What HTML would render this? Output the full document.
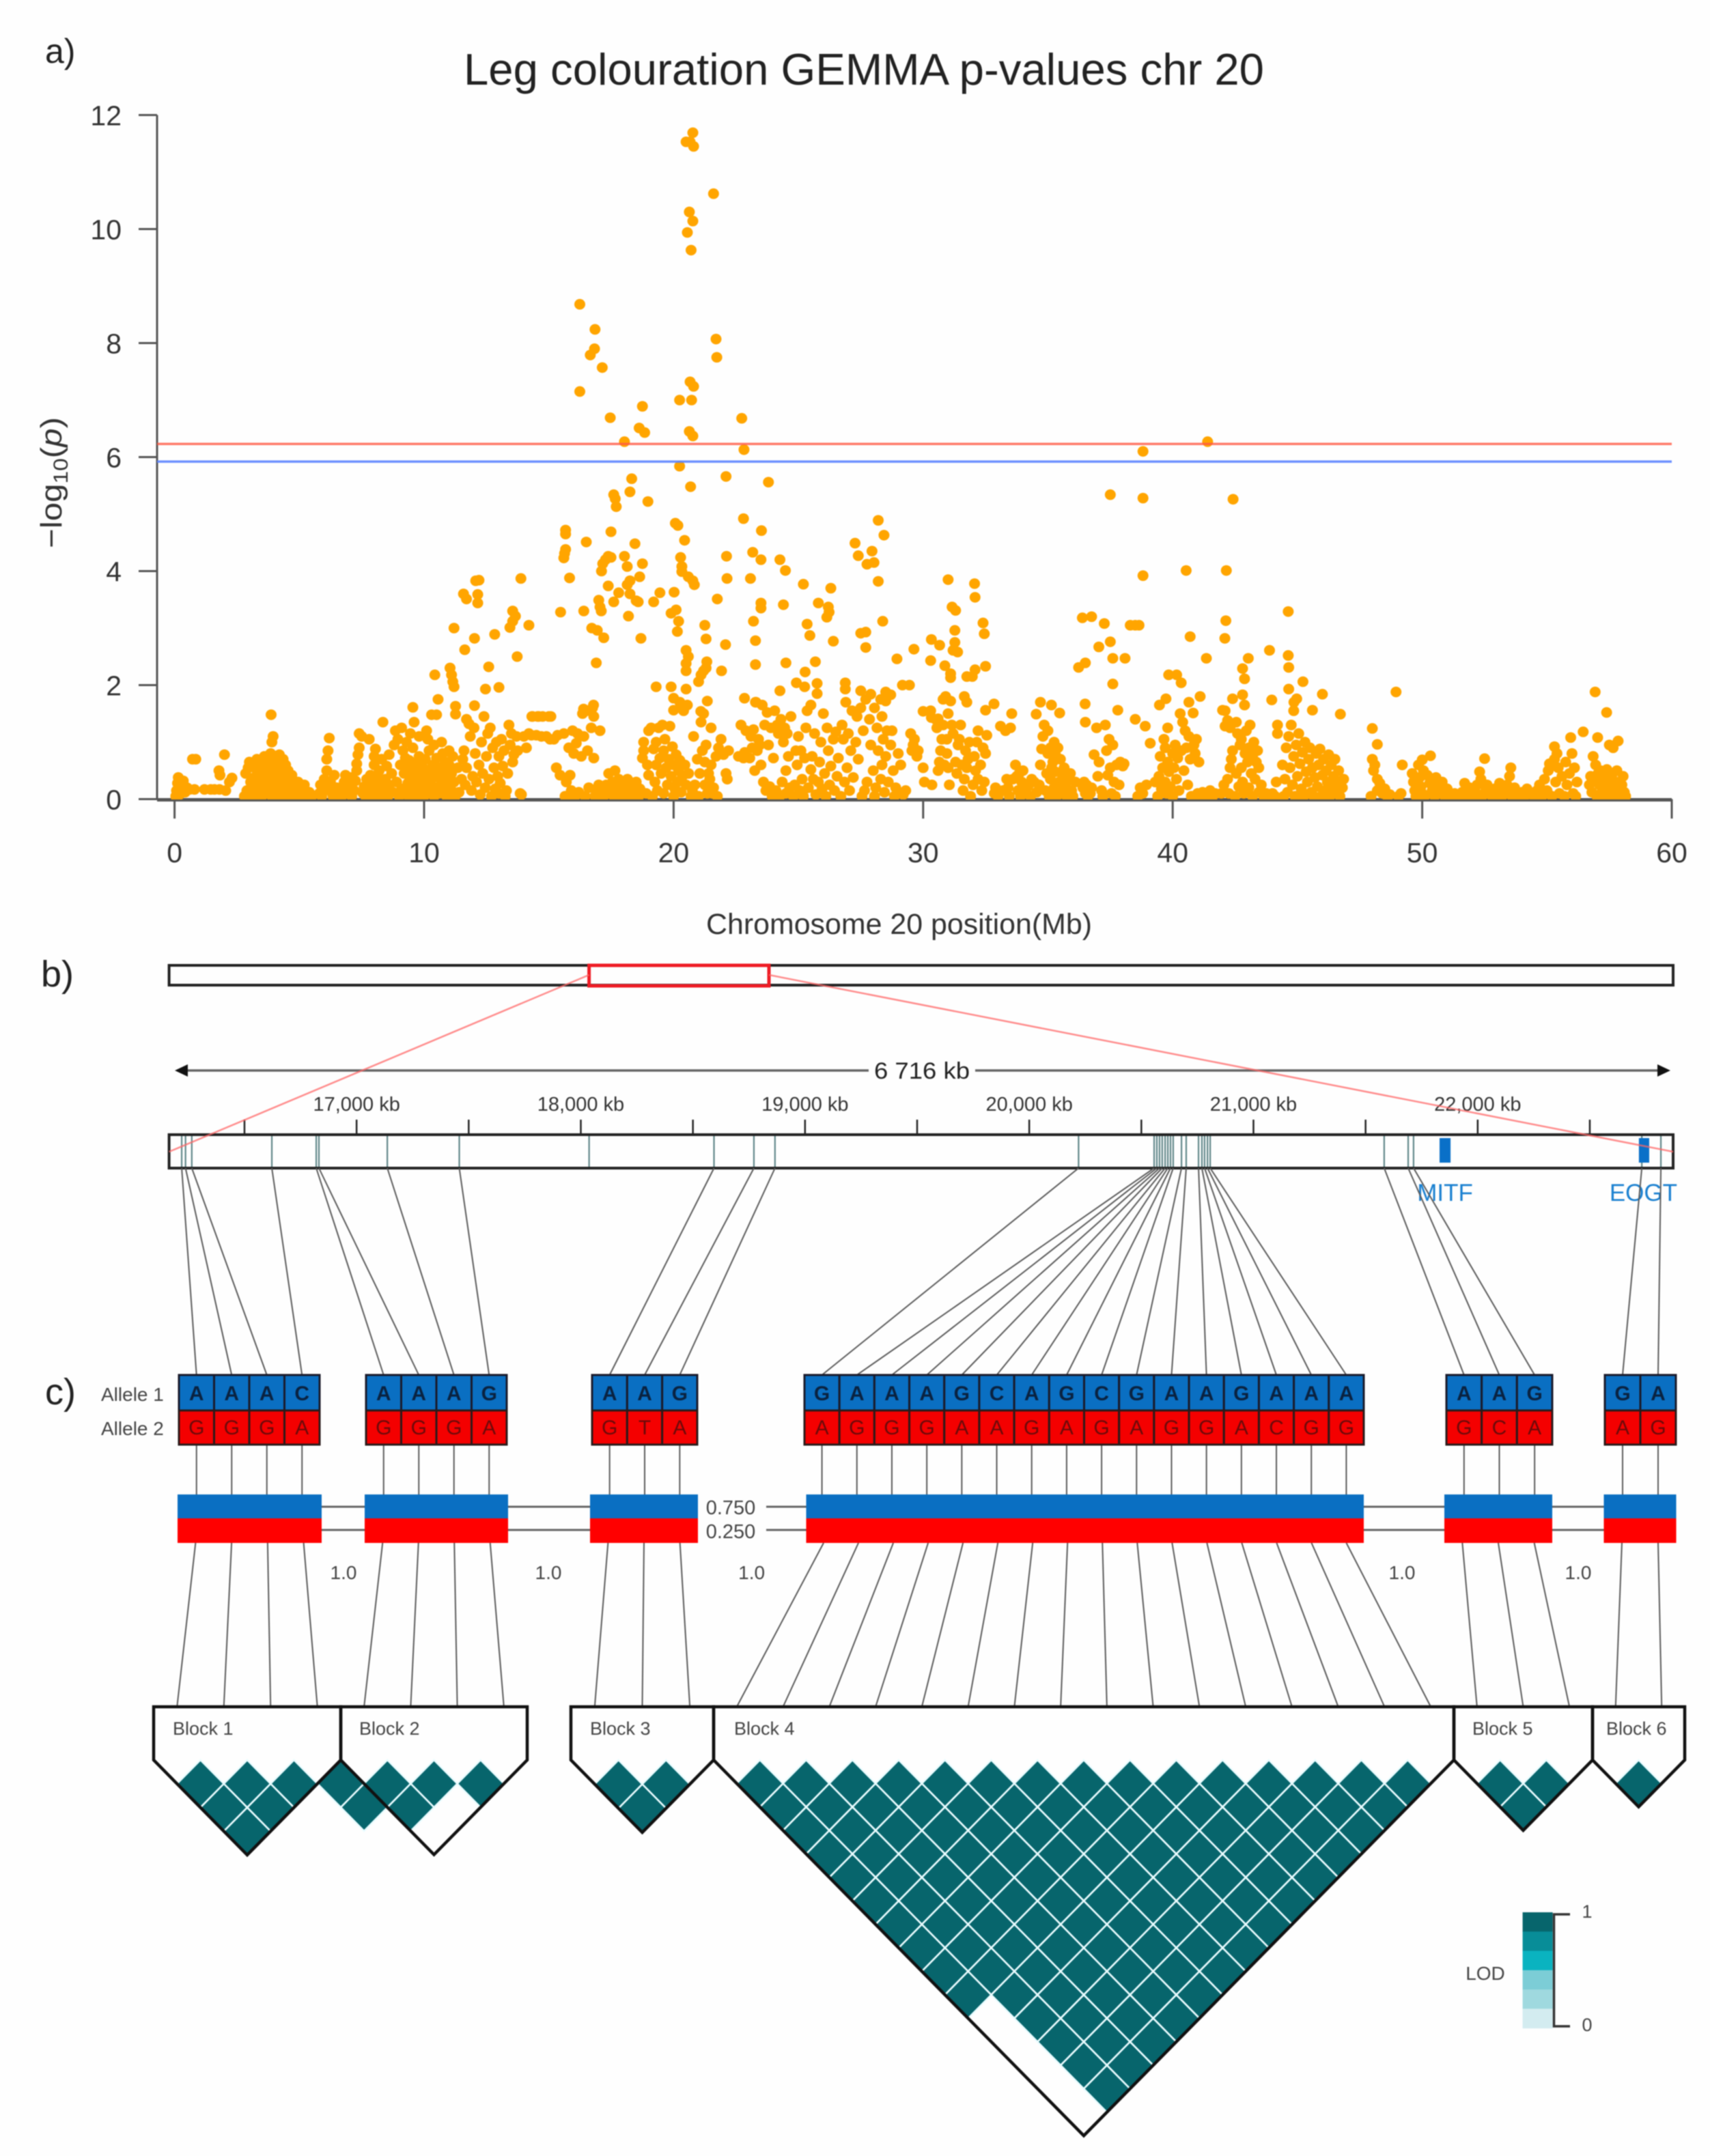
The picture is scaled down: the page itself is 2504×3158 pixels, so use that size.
<!DOCTYPE html>
<html lang="en">
<head>
<meta charset="utf-8">
<title>Leg colouration GEMMA p-values chr 20</title>
<style>
html,body{margin:0;padding:0;background:#fff;}
body{width:2504px;height:3158px;overflow:hidden;}
svg{display:block;filter:blur(0.7px);}
text{font-family:"Liberation Sans",sans-serif;}
</style>
</head>
<body>
<svg id="fig" xmlns="http://www.w3.org/2000/svg" width="2504" height="3158" viewBox="0 0 2504 3158">
<rect x="0" y="0" width="2504" height="3158" fill="#fefefe"/>
<defs><clipPath id="plotClip"><rect x="200" y="100" width="2300" height="1071"/></clipPath></defs>
<text x="66" y="92" font-size="50" fill="#222">a)</text>
<text x="60" y="1445" font-size="54" fill="#222">b)</text>
<text x="66" y="2057" font-size="54" fill="#222">c)</text>
<text x="679" y="124" font-size="65" fill="#222" textLength="1172" lengthAdjust="spacingAndGlyphs">Leg colouration GEMMA p-values chr 20</text>
<text transform="translate(90,803) rotate(-90)" font-size="44" fill="#333" textLength="192" lengthAdjust="spacingAndGlyphs">−log<tspan font-size="30" dy="9">10</tspan><tspan dy="-9">(</tspan><tspan font-style="italic">p</tspan>)</text>
<text x="1034" y="1368" font-size="43" fill="#333" textLength="565" lengthAdjust="spacingAndGlyphs">Chromosome 20 position(Mb)</text>
<g id="scatter"></g>
<g id="ideogram"></g>
<text x="1350" y="1580" font-size="34" fill="#222" text-anchor="middle" textLength="140" lengthAdjust="spacingAndGlyphs">6 716 kb</text>
<text x="148" y="2052" font-size="28" fill="#444">Allele 1</text>
<text x="148" y="2102" font-size="28" fill="#444">Allele 2</text>
<text x="1070" y="2218" font-size="29" fill="#444" text-anchor="middle">0.750</text>
<text x="1070" y="2253" font-size="29" fill="#444" text-anchor="middle">0.250</text>
<g id="haplo"></g>
<g id="ld"></g>
<g id="legend"></g>
<text x="2175" y="2900" font-size="28" fill="#444" text-anchor="middle">LOD</text>
<text x="2324" y="2809" font-size="27" fill="#444" text-anchor="middle">1</text>
<text x="2324" y="2975" font-size="27" fill="#444" text-anchor="middle">0</text>
</svg>
<script>
// ---------- Panel a data: flat lists of (position Mb, -log10 p) ----------
const snpsPeak = [20.77,11.69,20.66,11.53,20.5,11.53,20.8,11.45,21.6,10.62,20.63,10.3,20.77,10.14,20.55,9.94,20.7,9.63,16.24,8.68,16.85,8.24,16.83,7.9,16.66,7.79,17.14,7.57,16.24,7.15,21.7,8.07,21.73,7.75,20.66,7.32,20.8,7.24,20.24,7.0,20.72,7.0,18.75,6.89,17.46,6.69,18.62,6.51,18.84,6.43,20.63,6.45,20.77,6.37,22.73,6.68,18.03,6.27,22.82,6.13,38.81,6.1,41.4,6.27];
const snpsUpperLeft = [20.24,5.84,22.1,5.66,18.32,5.62,23.8,5.56,20.68,5.48,18.25,5.39,17.6,5.34,17.66,5.27,18.97,5.22,17.7,5.13,22.8,4.92,20.07,4.84,20.17,4.8,23.52,4.71,15.67,4.72,15.67,4.65,17.49,4.69,20.44,4.54,16.5,4.51,18.45,4.48,15.67,4.38,15.63,4.31,15.6,4.23,23.17,4.33,23.5,4.2,22.12,4.26,24.26,4.2,24.48,4.01,20.28,4.24,20.33,4.08,20.33,3.99,20.59,3.9,20.77,3.83,20.83,3.76,18.03,4.26,18.14,4.08,18.75,4.13,18.64,3.9,17.38,4.26,17.27,4.2,17.16,4.13,17.11,4.0,17.49,4.24,15.83,3.88,22.14,3.87,23.08,3.87,13.88,3.87,12.07,3.83,12.2,3.84,25.2,3.77,17.38,3.74,18.14,3.76,18.25,3.83,26.3,3.7,19.45,3.62,20.02,3.63,17.8,3.62,17.6,3.46,18.25,3.6,18.5,3.48,11.58,3.6,11.7,3.51,12.15,3.59,12.15,3.44,19.2,3.46,18.58,3.46,21.75,3.51,23.5,3.44,23.5,3.35,24.4,3.41,25.8,3.44,26.2,3.37,26.23,3.28,26.14,3.19,17.0,3.49,17.05,3.37,17.1,3.3,16.4,3.3,15.47,3.28,19.9,3.26,20.1,3.32,20.2,3.12,13.55,3.3,13.66,3.21,13.55,3.12,13.44,3.01,14.2,3.05,18.19,3.21,23.2,3.12,21.25,3.05,25.35,3.07,25.46,2.87,11.2,3.0,16.72,3.0,16.94,2.96,17.2,2.83,12.83,2.89,12.02,2.82,20.15,2.94,18.69,2.82,21.3,2.81,23.28,2.78,26.4,2.77];
const snpsMiddleLeft = [11.63,2.62,22.08,2.71,20.5,2.61,20.59,2.5,20.5,2.38,20.5,2.25,13.73,2.5,16.9,2.39,21.33,2.41,21.3,2.3,21.1,2.18,21.0,2.06,21.2,2.25,23.28,2.36,24.5,2.39,25.68,2.41,12.59,2.32,21.92,2.25,11.04,2.3,11.1,2.18,11.15,2.06,11.2,1.97,10.43,2.18,25.27,2.23,19.3,1.97,19.9,1.97,12.46,1.93,13.0,1.96,20.5,1.93,24.92,2.04,25.25,1.97,25.75,2.03,26.88,2.04,26.88,1.93,24.26,1.9,22.84,1.77,23.28,1.7,20.0,1.77,20.3,1.65,20.0,1.56,21.35,1.72,21.09,1.54,10.56,1.75,9.55,1.61,12.02,1.64,11.26,1.63,11.26,1.49,16.79,1.65,16.39,1.58,3.87,1.48,14.32,1.45,14.6,1.45,15.08,1.45];
const snpsUpperRight = [37.5,5.34,38.81,5.28,42.42,5.26,28.2,4.89,28.43,4.63,27.95,4.35,27.4,4.27,27.75,4.12,28.03,4.15,28.2,3.82,27.27,4.49,38.81,3.92,40.54,4.01,42.15,4.01,31.0,3.85,32.06,3.78,32.08,3.54,31.16,3.37,31.3,3.31,44.63,3.29,36.38,3.18,36.75,3.2,37.26,3.08,38.3,3.05,38.5,3.05,38.65,3.05,28.38,3.12,42.13,3.13,32.4,3.09,32.45,2.9,31.27,2.96,27.5,2.91,27.7,2.93,40.7,2.85,42.09,2.82,30.33,2.8,30.66,2.7,31.27,2.75,31.2,2.61,31.38,2.58,27.7,2.66,29.63,2.63,37.5,2.76,37.04,2.67,43.88,2.61,43.03,2.47,44.63,2.52,44.65,2.31,41.35,2.47,37.6,2.47,38.09,2.47,28.95,2.46,30.3,2.43,30.87,2.34,31.1,2.2,31.1,2.13,36.23,2.31,36.5,2.39,32.5,2.33,32.08,2.27,31.75,2.15,31.97,2.15,42.8,2.29,42.88,2.11,39.84,2.18,40.16,2.18,40.34,2.04,29.17,2.0,29.45,2.0,37.6,2.02,45.22,2.06,44.65,1.93,48.95,1.88,56.93,1.88];
const snpsMiddleRight = [30.9,1.8,30.8,1.75,31.1,1.72,31.65,1.8,31.75,1.7,46.0,1.84,27.5,1.9,27.9,1.84,28.5,1.88,28.7,1.83,28.5,1.72,42.8,1.83,42.4,1.76,42.88,1.65,41.1,1.8,44.97,1.76,44.86,1.7,43.97,1.74,39.73,1.76,39.47,1.65,36.49,1.67,32.84,1.67,32.5,1.56,34.7,1.7,35.14,1.65,35.47,1.51,34.53,1.49,40.65,1.7,40.82,1.51,45.6,1.56,46.72,1.49,37.8,1.56,33.55,1.5,57.39,1.52,30.0,1.54,30.33,1.43,30.6,1.41,42.0,1.56,42.2,1.38,42.1,1.28,38.5,1.4,38.9,1.28,39.1,0.98,48.0,1.24,48.2,0.96,48.1,0.6,50.33,0.76,50.0,0.69];
const snpsLow0to6 = [0.05,.05,.08,.15,.12,.28,.15,.38,.2,.08,.28,.25,.35,.32,.42,.12,.5,.2,.6,.17,.72,.7,.85,.7,.8,.17,1.2,.17,1.45,.17,1.6,.17,1.8,.17,1.78,.5,1.82,.42,2.0,.78,2.05,.15,2.2,.3,2.3,.37,2.8,.05,2.9,.15,2.85,.45,2.95,.55,3.0,.08,3.05,.3,3.0,.65,3.1,.18,3.15,.05,3.2,.38,3.2,.55,3.3,.7,3.35,.12,3.35,.25,3.4,.48,3.45,.62,3.5,.05,3.5,.35,3.55,.2,3.6,.75,3.6,.5,3.65,.1,3.7,.3,3.75,.62,3.8,.42,3.85,.8,3.85,.18,3.9,.05,3.9,1.0,3.9,.55,3.95,1.1,3.95,.28,4.0,.72,4.0,.12,4.05,.45,4.1,.62,4.1,.22,4.15,.05,4.2,.78,4.2,.35,4.25,.55,4.3,.15,4.3,.45,4.35,.7,4.4,.25,4.45,.05,4.45,.6,4.5,.38,4.5,.12,4.55,.5,4.6,.22,4.65,.3,4.7,.05,4.7,.42,4.75,.15,4.8,.25,4.9,.1,4.95,.3,5.0,.05,5.05,.18,5.15,.1,5.2,.25,5.3,.05,5.4,.12,5.5,.05,5.8,.1,5.85,.25,5.9,.05];
const snpsLow6to11 = [6.0,.35,6.05,.18,6.1,.5,6.1,.7,6.15,.85,6.2,1.07,6.25,.3,6.3,.12,6.35,.05,6.4,.42,6.5,.2,6.7,.05,6.75,.15,6.8,.3,6.85,.42,6.9,.1,7.0,.22,7.05,.38,7.1,.05,7.2,.15,7.25,.32,7.3,.5,7.3,.62,7.35,.78,7.4,.9,7.4,1.15,7.5,1.1,7.55,.1,7.6,.22,7.65,.05,7.7,.35,7.8,1.05,7.8,.15,7.85,.42,7.9,.05,7.95,.28,8.0,.6,8.0,.75,8.05,.88,8.1,.12,8.15,.35,8.2,.5,8.25,.05,8.25,.22,8.3,.7,8.35,1.35,8.4,.15,8.45,.35,8.5,.58,8.55,.05,8.6,.78,8.6,.25,8.7,.45,8.75,.12,8.8,.95,8.85,1.2,8.9,.3,8.95,1.05,9.0,.05,9.05,.6,9.1,1.25,9.1,.18,9.15,.85,9.2,.45,9.25,.72,9.3,1.0,9.3,.08,9.35,.28,9.4,.55,9.4,.68,9.45,1.15,9.5,.15,9.5,.38,9.55,.05,9.55,.9,9.6,1.35,9.65,.5,9.7,.25,9.7,.62,9.75,.08,9.8,.75,9.8,1.1,9.85,.35,9.9,.15,9.95,.55,10.0,.05,10.0,.42,10.05,.7,10.1,1.2,10.1,.25,10.15,1.05,10.2,.12,10.2,.85,10.25,.5,10.3,1.48,10.3,.35,10.35,.6,10.4,.05,10.4,.95,10.45,.2,10.5,1.48,10.5,.72,10.55,.4,10.6,.1,10.6,.55,10.7,.3,10.7,1.0,10.75,.8,10.8,.15,10.8,.5,10.85,.65,10.9,.25,10.9,.05,10.95,.38];
const snpsLow11to16 = [11.0,.85,11.0,.6,11.1,.15,11.1,.45,11.15,.75,11.2,.3,11.25,.05,11.35,.55,11.4,.12,11.5,.35,11.55,.7,11.6,.85,11.65,.25,11.7,1.4,11.7,.55,11.8,1.32,11.85,1.1,11.9,.15,11.95,.4,12.0,1.25,12.05,.8,12.1,.3,12.2,.6,12.25,.08,12.3,1.0,12.35,.45,12.4,1.45,12.45,.2,12.5,.75,12.55,1.15,12.6,.35,12.65,1.25,12.7,.05,12.75,.9,12.8,.55,12.85,.18,12.9,1.0,12.95,.4,13.0,.75,13.0,.1,13.05,.28,13.1,1.05,13.15,.58,13.2,.85,13.25,.05,13.3,.15,13.35,.45,13.4,1.3,13.45,.95,13.5,1.15,13.55,.65,13.6,.78,13.7,1.1,13.75,.85,13.85,.1,13.9,.08,14.0,1.1,14.1,.9,14.2,1.15,14.3,1.12,14.35,1.45,14.5,1.12,14.55,1.45,14.7,1.1,14.75,1.45,14.9,1.1,15.0,1.45,15.05,1.05,15.2,1.05,15.3,.55,15.35,1.12,15.45,.42,15.6,1.15,15.65,.05,15.7,.3,15.75,.02,15.8,.9,15.85,.42,15.9,.15,15.95,1.2];
const snpsLow16to21 = [16.0,.8,16.05,.05,16.1,.98,16.15,1.15,16.2,.12,16.3,.75,16.35,1.5,16.4,1.1,16.45,.05,16.5,1.55,16.55,.85,16.6,.2,16.7,1.25,16.75,1.6,16.8,1.45,16.8,.72,16.85,.05,16.95,.15,17.0,.25,17.05,1.2,17.1,.1,17.2,.05,17.3,.25,17.4,.45,17.45,.12,17.55,.3,17.6,.05,17.65,.5,17.7,.2,17.8,.35,17.85,.08,17.9,.15,18.0,.25,18.05,.05,18.15,.35,18.2,.12,18.3,.05,18.35,.2,18.45,.1,18.5,.3,18.6,.05,18.65,.18,18.75,.72,18.8,.85,18.8,1.0,18.9,.1,18.95,.6,19.0,1.2,19.0,.42,19.1,1.25,19.15,.05,19.2,.88,19.25,.3,19.3,1.0,19.3,.6,19.35,.15,19.4,1.25,19.45,.72,19.5,.45,19.55,1.3,19.6,.85,19.6,.1,19.65,1.05,19.7,.55,19.75,.25,19.8,.7,19.85,1.28,19.9,.4,19.95,.92,20.0,.05,20.0,.6,20.05,.18,20.1,.78,20.15,.3,20.2,.5,20.25,1.7,20.25,.68,20.3,.12,20.35,.4,20.4,1.55,20.45,.6,20.5,.25,20.55,1.65,20.6,.45,20.7,.05,20.75,.15,20.8,1.1,20.85,.25,20.95,.7,21.0,.05];
const snpsLow21to25 = [21.05,.45,21.1,1.35,21.15,.85,21.2,1.5,21.25,.65,21.25,.25,21.3,.95,21.35,.1,21.4,.45,21.45,.35,21.5,1.25,21.5,.6,21.55,.1,21.6,.2,21.7,.75,21.75,.05,21.8,.9,21.9,1.05,22.0,.78,22.1,.45,22.15,.35,22.2,.85,22.6,.75,22.7,1.3,22.8,.72,22.85,.82,22.9,1.2,23.05,.72,23.1,1.1,23.15,.9,23.2,1.22,23.25,.5,23.3,1.7,23.35,.85,23.4,1.05,23.45,.95,23.5,.6,23.55,1.65,23.6,.3,23.65,1.3,23.7,.15,23.75,1.52,23.8,.95,23.85,.22,23.9,1.25,23.95,.05,24.0,.72,24.05,1.55,24.1,.15,24.15,1.3,24.2,1.15,24.25,.05,24.3,1.4,24.35,.3,24.4,1.0,24.45,1.25,24.5,.1,24.5,.5,24.55,1.15,24.6,.75,24.65,.2,24.7,1.45,24.8,.05,24.85,.25,24.9,.85,24.95,.6];
const snpsLow25to30 = [25.0,1.1,25.05,.15,25.1,.85,25.15,.35,25.2,.05,25.25,.72,25.3,1.25,25.35,1.55,25.4,.2,25.5,1.65,25.5,.52,25.55,.75,25.6,.35,25.65,1.15,25.7,.08,25.75,1.85,25.8,.3,25.85,.65,25.9,1.0,25.95,.18,26.0,1.5,26.05,.45,26.1,.05,26.15,1.25,26.2,.85,26.25,.25,26.3,.58,26.4,1.05,26.45,.15,26.5,1.18,26.55,.4,26.6,.72,26.7,.05,26.75,1.3,26.8,1.05,26.85,.3,26.9,1.7,26.95,.55,27.0,1.15,27.05,.15,27.1,.85,27.15,1.55,27.2,.38,27.3,1.0,27.35,1.45,27.4,.7,27.5,1.6,27.55,.05,27.6,1.2,27.65,.15,27.7,1.75,27.75,.3,27.85,1.4,27.9,.95,28.0,.5,28.05,1.6,28.05,.05,28.1,.2,28.15,1.25,28.2,.85,28.3,1.75,28.3,.35,28.35,1.45,28.35,.6,28.4,1.05,28.45,.12,28.5,.75,28.55,1.2,28.6,.3,28.7,.95,28.75,1.2,28.8,.5,28.85,.05,28.9,.2,29.0,.8,29.1,.6,29.2,.08,29.3,.15,29.5,1.15,29.55,.85,29.6,.95,29.65,1.05,29.75,.75,29.8,.85];
const snpsLow30to36 = [30.0,.55,30.05,.3,30.3,1.55,30.35,.25,30.5,1.4,30.55,1.25,30.6,.5,30.65,.65,30.7,.85,30.75,1.05,30.8,1.3,30.85,.6,30.95,1.05,30.95,.8,31.0,1.5,31.0,.55,31.05,.25,31.15,1.3,31.2,1.15,31.3,.65,31.35,.45,31.4,.95,31.45,1.05,31.5,1.3,31.55,.6,31.6,.15,31.65,.35,31.7,.85,31.75,.55,31.8,.7,31.85,1.0,31.9,.05,32.0,.25,32.05,.75,32.1,.5,32.15,1.0,32.2,.35,32.2,1.2,32.3,.6,32.35,.15,32.4,.9,32.45,.3,32.5,.8,32.55,1.12,33.1,1.28,33.3,1.2,33.4,.2,33.5,1.25,33.0,.05,32.9,.2,32.85,.1,33.2,.15,33.35,.35,33.45,.05,33.6,.35,33.7,.6,33.75,.4,33.8,.15,33.85,.45,33.9,.05,33.95,.3,34.0,.5,34.1,.15,34.2,.22,34.3,.05,34.35,.35,34.45,.3,34.55,.12,34.65,.25,34.7,.6,34.75,.88,34.8,1.1,34.85,1.3,34.9,.15,34.95,.45,35.0,1.2,35.0,.8,35.05,.05,35.1,.9,35.1,.35,35.15,.55,35.2,.65,35.25,1.0,35.25,.2,35.3,.78,35.3,.48,35.35,.05,35.4,.9,35.45,.3,35.5,.7,35.55,.15,35.6,.4,35.65,.55,35.7,.25,35.75,.05,35.8,.35,35.9,.45,35.95,.15];
const snpsLow36to42 = [36.0,.05,36.1,.3,36.4,.2,36.45,.3,36.5,1.35,36.5,.1,36.55,.25,36.6,.05,36.7,.1,36.75,.2,36.85,.78,36.95,1.25,37.0,.4,37.05,.65,37.15,.15,37.2,.05,37.3,1.3,37.35,.85,37.4,.42,37.45,1.05,37.5,.55,37.55,.1,37.6,.95,37.65,.3,37.7,.05,37.75,.6,37.85,.25,37.9,.65,38.0,.58,38.05,.62,38.6,.05,38.8,.1,38.95,.25,38.7,.2,39.3,.3,39.4,.05,39.45,.4,39.5,.75,39.55,.18,39.6,.55,39.65,1.05,39.7,.9,39.7,.3,39.75,.1,39.8,1.25,39.8,.65,39.85,.48,39.9,.22,40.0,.05,40.0,.8,40.05,.55,40.1,.95,40.15,.35,40.2,.72,40.25,.15,40.3,1.5,40.35,.85,40.4,1.35,40.45,.5,40.5,1.2,40.55,.9,40.6,.25,40.65,1.1,40.7,.7,40.75,.05,40.85,.95,40.9,.8,40.95,1.05,41.0,.1,41.05,.65,41.1,.05,41.2,.12,41.3,.05,41.4,.1,41.5,.15,41.6,.05,41.7,.1,41.95,.1];
const snpsLow42to47 = [42.05,.25,42.1,1.55,42.2,.35,42.25,.1,42.3,1.25,42.3,.55,42.35,.7,42.4,.85,42.5,.05,42.55,1.35,42.55,.45,42.6,1.15,42.65,.22,42.7,.95,42.75,1.05,42.75,.55,42.8,.3,42.85,.1,42.9,.8,42.95,1.2,43.0,.65,43.05,.9,43.05,.2,43.1,1.3,43.15,.45,43.2,.05,43.2,.75,43.25,1.0,43.3,.35,43.35,.65,43.4,.85,43.45,.55,43.45,.12,43.55,.25,43.65,.05,43.75,.1,43.85,.05,44.0,.1,44.1,.05,44.15,.3,44.2,1.15,44.2,1.3,44.4,.6,44.45,.05,44.5,.35,44.55,.9,44.6,.12,44.65,1.1,44.7,.55,44.75,1.3,44.8,.25,44.85,.75,44.85,1.55,44.9,.05,44.95,.95,45.0,.4,45.05,1.15,45.1,.62,45.15,.18,45.2,.82,45.25,.05,45.3,1.0,45.35,.48,45.4,.3,45.45,.7,45.5,.9,45.55,.12,45.6,.55,45.65,.05,45.7,.38,45.75,.8,45.8,.22,45.85,.6,45.9,.88,45.95,.05,46.0,.42,46.05,.7,46.1,.15,46.15,.5,46.2,.3,46.25,.78,46.3,.05,46.35,.6,46.4,.2,46.45,.4,46.5,.7,46.55,.1,46.6,.3,46.65,.5,46.7,.05,46.8,.2,46.85,.35];
const snpsLow48to58 = [47.95,.05,48.0,.7,48.05,.5,48.2,.15,48.2,.35,48.3,.28,48.4,.1,48.5,.18,48.6,.05,48.7,.08,49.05,.05,49.15,.1,49.2,.6,49.6,.45,49.65,.3,49.7,.15,49.75,.05,49.85,.6,49.9,.38,49.95,.22,50.0,.1,50.05,.5,50.1,.05,50.2,.42,50.3,.28,50.4,.15,50.5,.05,50.55,.38,50.65,.22,50.75,.1,50.8,.3,50.9,.05,51.0,.18,51.1,.05,51.3,.1,51.45,.05,51.6,.12,51.7,.28,51.8,.05,51.9,.2,52.0,.05,52.1,.15,52.2,.25,52.25,.08,52.3,.48,52.35,.35,52.4,.05,52.5,.71,52.55,.15,52.6,.25,52.7,.1,52.8,.05,52.9,.18,53.0,.08,53.1,.28,53.2,.05,53.3,.15,53.4,.25,53.5,.4,53.5,.1,53.55,.55,53.6,.05,53.7,.2,53.8,.12,53.9,.05,54.0,.12,54.1,.05,54.2,.18,54.4,.08,54.5,.05,54.6,.15,54.7,.25,54.8,.05,54.9,.35,55.0,.15,55.05,.5,55.1,.62,55.2,.05,55.3,.92,55.3,.7,55.35,.3,55.4,.8,55.45,.55,55.5,.1,55.6,.4,55.7,.05,55.75,.65,55.8,.25,55.9,.45,55.95,1.08,56.0,.8,56.05,.1,56.1,.55,56.15,.05,56.2,.3,56.45,1.18,56.7,.25,56.75,.4,56.8,.12,56.85,.75,56.9,.35,56.95,.6,57.0,.05,57.03,1.08,57.05,.45,57.1,.25,57.15,.5,57.2,.12,57.25,.38,57.3,.05,57.35,.3,57.4,.52,57.5,.95,57.5,.2,57.55,.05,57.6,.42,57.65,.9,57.7,.15,57.75,.3,57.8,.5,57.85,1.02,57.9,.05,58.0,.25,58.05,.4,58.1,.12,58.15,.05];
const xTicks = [0,10,20,30,40,50,60];
const yTicks = [0,2,4,6,8,10,12];
const thresholdRed = 6.23;
const thresholdBlue = 5.92;

// ---------- Panel b data (genome coordinates in kb) ----------
const regionTicksKb = [16500,17000,17500,18000,18500,19000,19500,20000,20500,21000,21500,22000,22500];
const regionLabelsKb = [17000,18000,19000,20000,21000,22000];
const extraMarkerKb = [18037];
const snpMarkersKb = [16220,16237,16265,16622,16820,16832,17137,17458,18594,18772,18866,20220,20557,20569,20581,20593,20606,20618,20630,20642,20679,20700,20755,20770,20782,20795,20807,21583,21690,21714,22732,22817];
const geneNames = ['MITF','EOGT'];
const geneStartKb = [21830,22719];
const geneEndKb = [21879,22765];

// ---------- Panel c data ----------
const alleleOne = ['AAAC','AAAG','AAG','GAAAGCAGCGAAGAAA','AAG','GA'];
const alleleTwo = ['GGGA','GGGA','GTA','AGGGAAGAGAGGACGG','GCA','AG'];
const ldMissing = [[],['1-1','2-0'],[],['10-0','11-0','12-0','13-0','14-0'],[],[]];
const ldExtra = [[],[[0,-1],[1,-1]],[],[],[],[]];
const blockNames = ['Block 1','Block 2','Block 3','Block 4','Block 5','Block 6'];
const lodColors = ['#07656c','#088d98','#0ab3c0','#7ccdd6','#9fd9df','#d3ecf0'];

const NS = 'http://www.w3.org/2000/svg';
function mk(tag, attrs, parent, text){
  const e = document.createElementNS(NS, tag);
  for (const k in attrs) e.setAttribute(k, attrs[k]);
  if (text !== undefined) e.textContent = text;
  parent.appendChild(e);
  return e;
}

// ---------- Panel a ----------
const xMb = v => 255.6 + v * 36.54;
const yLog = v => 1170.5 - v * 83.5;
const scatter = document.getElementById('scatter');

const yAxisLine = mk('line',{x1:230,x2:230,y1:yLog(12),y2:yLog(0),stroke:'#555','stroke-width':3},scatter);


const xAxisLine = mk('line',{x1:230,x2:xMb(60),y1:yLog(0)+1,y2:yLog(0)+1,stroke:'#555','stroke-width':5},scatter);



yTicks.forEach(t => {
  const l = mk('line',{x1:203,x2:230,y1:yLog(t),y2:yLog(t),stroke:'#555','stroke-width':3},scatter);
  
  
  const s = mk('text',{x:178,y:yLog(t)+15,'font-size':41,fill:'#333','text-anchor':'end'},scatter,String(t));
  
  
});
xTicks.forEach(t => {
  const l = mk('line',{x1:xMb(t),x2:xMb(t),y1:yLog(0),y2:1199,stroke:'#555','stroke-width':3},scatter);
  
  
  const s = mk('text',{x:xMb(t),y:1263,'font-size':41,fill:'#333','text-anchor':'middle'},scatter,String(t));
  
  
});

const pointLayer = mk('g',{'clip-path':'url(#plotClip)',fill:'#ffa500'},scatter);


[snpsLow0to6,snpsLow6to11,snpsLow11to16,snpsLow16to21,snpsLow21to25,snpsLow25to30,snpsLow30to36,snpsLow36to42,snpsLow42to47,snpsLow48to58,snpsMiddleLeft,snpsMiddleRight,snpsUpperLeft,snpsUpperRight,snpsPeak].forEach(list => {
  for (let i = 0; i + 1 < list.length; i += 2) {
    const c = mk('ellipse',{cx:xMb(list[i]),cy:yLog(list[i+1]),rx:8,ry:7.8},pointLayer);
    
    
  }
});
const redLine = mk('line',{x1:230,x2:xMb(60),y1:yLog(thresholdRed),y2:yLog(thresholdRed),stroke:'#ff5a45','stroke-width':3.5,'stroke-opacity':.8},scatter);


const blueLine = mk('line',{x1:230,x2:xMb(60),y1:yLog(thresholdBlue),y2:yLog(thresholdBlue),stroke:'#5c84ff','stroke-width':3.5,'stroke-opacity':.9},scatter);



// ---------- Panel b ----------
const xKb = kb => 358 + (kb - 16500) * 0.32833;
const BAR_L = 247.6, BAR_R = 2450, BAR_T = 1662, BAR_B = 1711;
const ideo = document.getElementById('ideogram');

const chrBar = mk('rect',{x:BAR_L,y:1414,width:BAR_R-BAR_L,height:29,fill:'none',stroke:'#222','stroke-width':4},ideo);


const zoomBox = mk('rect',{x:862.6,y:1414,width:263.4,height:30,fill:'none',stroke:'#ee1c25','stroke-width':5},ideo);



const arrowLeft = mk('line',{x1:270,x2:1272,y1:1568,y2:1568,stroke:'#666','stroke-width':3.5},ideo);


const arrowRight = mk('line',{x1:1428,x2:2430,y1:1568,y2:1568,stroke:'#666','stroke-width':3.5},ideo);


const headLeft = mk('polygon',{points:'256,1568 275,1559 275,1577',fill:'#111'},ideo);


const headRight = mk('polygon',{points:'2446,1568 2427,1559 2427,1577',fill:'#111'},ideo);



regionTicksKb.forEach(kb => {
  const l = mk('line',{x1:xKb(kb),x2:xKb(kb),y1:1640,y2:BAR_T,stroke:'#222','stroke-width':2.5},ideo);
  
  
});
regionLabelsKb.forEach(kb => {
  const label = kb.toLocaleString('en-US') + ' kb';
  const s = mk('text',{x:xKb(kb),y:1627,'font-size':29,fill:'#333','text-anchor':'middle'},ideo,label);
  
  
});
snpMarkersKb.concat(extraMarkerKb).forEach(kb => {
  const l = mk('line',{x1:xKb(kb),x2:xKb(kb),y1:BAR_T,y2:BAR_B,stroke:'#5f8688','stroke-width':2.2},ideo);
  
  
});
geneNames.forEach((name,i) => {
  const a = xKb(geneStartKb[i]), b = xKb(geneEndKb[i]);
  const r = mk('rect',{x:a,y:1667,width:b-a,height:36,fill:'#0a70c8'},ideo);
  
  
  const s = mk('text',{x:(a+b)/2 + (i ? -1 : 0),y:1759,'font-size':35,fill:'#1a80d0','text-anchor':'middle'},ideo,name);
  
  
});
const regionBar = mk('rect',{x:BAR_L,y:BAR_T,width:BAR_R-BAR_L,height:BAR_B-BAR_T,fill:'none',stroke:'#222','stroke-width':4},ideo);


const zoomLeft = mk('line',{x1:862.6,y1:1428,x2:BAR_L,y2:1687,stroke:'#f66','stroke-width':2.5,'stroke-opacity':.75},ideo);


const zoomRight = mk('line',{x1:1126,y1:1428,x2:BAR_R,y2:1687,stroke:'#f66','stroke-width':2.5,'stroke-opacity':.75},ideo);



// ---------- Panel c ----------
const blockStart = [225,499,836,1045,2129,2332];
const blockEnd = [499,772,1045,2129,2332,2467];
const cellLeft = [262,536,867,1178,2118,2350];
const cellRight = [468,742,1021,1997,2273,2454];
const freqLeft = [260,534,864,1180.5,2115,2348.5];
const freqRight = [471,744,1022,1997,2273,2454.5];
const oneLabelX = [503,803,1100.6,2053,2311];
const H_TOP = 2014, H_MID = 2066, H_BOT = 2116, F_TOP = 2189, F_MID = 2224, F_BOT = 2260, B_TOP = 2500, B_SIDE = 2578;
const haplo = document.getElementById('haplo');
let markerIndex = 0;

// frequency connector lines between bars
for (let i = 0; i < 5; i++) {
  [2207,2241].forEach(y => {
    let a = freqRight[i], b = freqLeft[i+1];
    if (i === 2) a = 1122;
    const l = mk('line',{x1:a,x2:b,y1:y,y2:y,stroke:'#666','stroke-width':3},haplo);
    
    
  });
}
oneLabelX.forEach(x => {
  const s = mk('text',{x:x,y:2313,'font-size':28,fill:'#444','text-anchor':'middle'},haplo,'1.0');
  
  
});

alleleOne.forEach((seq,b) => {
  const n = seq.length;
  const cw = (cellRight[b]-cellLeft[b]) / n;
  const lw = (blockEnd[b]-blockStart[b]) / n;
  for (let k = 0; k < n; k++) {
    const cx = cellLeft[b] + cw * (k + .5);
    const topX = xKb(snpMarkersKb[markerIndex++]);
    const a = mk('line',{x1:topX,y1:BAR_B,x2:cx,y2:H_TOP,stroke:'#5a5a5a','stroke-width':2},haplo);
    
    
    const c = mk('line',{x1:cx,y1:H_BOT,x2:cx,y2:F_TOP,stroke:'#5a5a5a','stroke-width':2},haplo);
    
    
    const fx = freqLeft[b] + (freqRight[b]-freqLeft[b]) * (k + .5) / n;
    const d = mk('line',{x1:fx,y1:F_BOT,x2:blockStart[b]+lw*(k+.5),y2:B_TOP,stroke:'#5a5a5a','stroke-width':2},haplo);
    
    

    const top = mk('rect',{x:cellLeft[b]+cw*k,y:H_TOP,width:cw,height:H_MID-H_TOP,fill:'#0a6fc2',stroke:'#1a1a2a','stroke-width':3},haplo);
    
    
    const bot = mk('rect',{x:cellLeft[b]+cw*k,y:H_MID,width:cw,height:H_BOT-H_MID,fill:'#f40000',stroke:'#2a1a1a','stroke-width':3},haplo);
    
    
    const t1 = mk('text',{x:cx,y:2051,'font-size':30,'font-weight':'bold',fill:'#0a2240','text-anchor':'middle'},haplo,seq[k]);
    
    
    const t2 = mk('text',{x:cx,y:2101,'font-size':30,fill:'#6a0a0a','text-anchor':'middle'},haplo,alleleTwo[b][k]);
    
    
  }
  const fb = mk('rect',{x:freqLeft[b],y:F_TOP,width:freqRight[b]-freqLeft[b],height:F_MID-F_TOP,fill:'#0a6fc2'},haplo);
  
  
  const fr = mk('rect',{x:freqLeft[b],y:F_MID,width:freqRight[b]-freqLeft[b],height:F_BOT-F_MID,fill:'#ff0000'},haplo);
  
  
});

// LD blocks
const ld = document.getElementById('ld');
const ratio = 1.97;
function diamond(cx, cy, w, h, parent){
  const pts = [cx,cy-h,cx+w,cy,cx,cy+h,cx-w,cy].join(' ');
  const d = mk('polygon',{points:pts,fill:'#07656c',stroke:'#eafcff','stroke-width':2.6},parent);
  
  
}
alleleOne.forEach((seq,b) => {
  const n = seq.length, W = blockEnd[b]-blockStart[b], w = W/n, half = W/ratio/n;
  const xL = blockStart[b];
  const cellAt = (r,c) => [xL + w*(c+1+r/2), B_SIDE + half*(r+1)];
  for (let r = 0; r < n-1; r++) {
    for (let c = 0; c < n-1-r; c++) {
      if (ldMissing[b].indexOf(r+'-'+c) >= 0) continue;
      const p = cellAt(r,c);
      diamond(p[0],p[1],w/2,half,ld);
    }
  }
  ldExtra[b].forEach(rc => {
    const p = cellAt(rc[0],rc[1]);
    diamond(p[0],p[1],w/2,half,ld);
  });
});
alleleOne.forEach((seq,b) => {
  const xL = blockStart[b], xR = blockEnd[b], W = xR-xL;
  const pts = [xL,B_TOP,xR,B_TOP,xR,B_SIDE,(xL+xR)/2,B_SIDE+W/ratio,xL,B_SIDE].join(' ');
  const o = mk('polygon',{points:pts,fill:'none',stroke:'#111','stroke-width':4.5,'stroke-linejoin':'miter'},ld);
  
  
  const labelOffset = [28,27,28,30,27,20][b];
  const s = mk('text',{x:xL+labelOffset,y:2541,'font-size':27,fill:'#444'},ld,blockNames[b]);
  
  
});

// LOD legend
const legend = document.getElementById('legend');
const LEG_T = 2801, LEG_B = 2970.6, segH = (LEG_B-LEG_T)/lodColors.length;
lodColors.forEach((col,i) => {
  const r = mk('rect',{x:2229.6,y:LEG_T+i*segH,width:44,height:segH+.5,fill:col},legend);
  
  
});
const bracket = mk('polyline',{points:'2299,2804 2275.5,2804 2275.5,2968 2299,2968',fill:'none',stroke:'#333','stroke-width':3.5},legend);


</script>
</body>
</html>
